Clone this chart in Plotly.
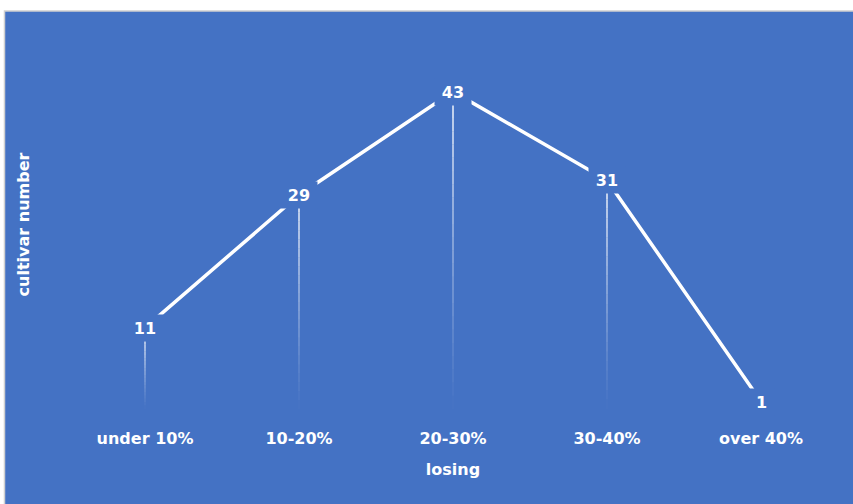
import plotly.graph_objects as go

categories = ["under 10%", "10-20%", "20-30%", "30-40%", "over 40%"]
values = [11, 29, 43, 31, 1]
x_title = "losing"
y_title = "cultivar number"

BLUE = "#4472C4"
FONT = "DejaVu Sans"
FS = 16
W, H = 853, 504
ML, MR, MT, MB = 68, 15, 39.5, 94.5
PW, PH = W - ML - MR, H - MT - MB

def px_x(p):
    return (p - ML) / PW

def px_y(p):
    return (H - MB - p) / PH

fig = go.Figure()

fig.add_trace(go.Scatter(
    x=categories, y=values, mode="lines",
    line=dict(color="white", width=3.5),
    hoverinfo="skip", showlegend=False,
))

shapes = []
# chart background panel with light grey border
shapes.append(dict(type="rect", xref="paper", yref="paper",
                   x0=px_x(4.5), x1=px_x(860), y0=px_y(510), y1=px_y(10.5),
                   fillcolor=BLUE, line=dict(color="#D0D0D0", width=1.5), layer="below"))
# gradient drop lines
N = 24
for i, (c, v) in enumerate(zip(categories, values)):
    for k in range(N):
        y0 = v * (1 - k / N)
        y1 = v * (1 - (k + 1) / N)
        op = 0.95 * (1 - k / N) ** 1.2
        shapes.append(dict(type="line", xref="x", yref="y",
                           x0=i, x1=i, y0=y0, y1=y1,
                           line=dict(color=f"rgba(255,255,255,{op:.3f})", width=1.5),
                           layer="below"))

annotations = []
for c, v in zip(categories, values):
    annotations.append(dict(x=c, y=v, xref="x", yref="y", text=f"<b>{v}</b>",
                            showarrow=False, bgcolor=BLUE, borderpad=0,
                            width=len(str(v)) * 11 + 14, height=26,
                            font=dict(family=FONT, size=FS, color="white")))

fig.update_layout(
    width=W, height=H,
    margin=dict(l=ML, r=MR, t=MT, b=MB, autoexpand=False),
    paper_bgcolor="white", plot_bgcolor="rgba(0,0,0,0)",
    shapes=shapes, annotations=annotations,
    showlegend=False,
    xaxis=dict(type="category", range=[-0.5, 4.5], showgrid=False, zeroline=False,
               showline=False, ticks="outside", ticklen=15, tickcolor="rgba(0,0,0,0)",
               tickfont=dict(family=FONT, size=FS, color="white", weight="bold"),
               title=dict(text=x_title, standoff=16,
                          font=dict(family=FONT, size=FS, color="white", weight="bold")),
               fixedrange=True, automargin=False),
    yaxis=dict(range=[0, 50], showgrid=False, zeroline=False, showline=False,
               showticklabels=False, ticks="",
               title=dict(text=y_title, standoff=33,
                          font=dict(family=FONT, size=FS, color="white", weight="bold")),
               fixedrange=True, automargin=False),
)

fig.write_html("out.html")
